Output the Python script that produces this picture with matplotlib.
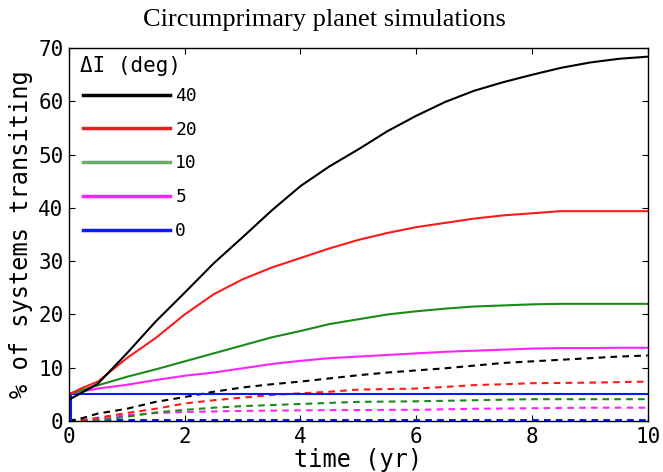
import matplotlib
matplotlib.use("Agg")
import matplotlib.pyplot as plt
from matplotlib.lines import Line2D


# =========================================================
# Data
# =========================================================
TIME = [0, 0.25, 0.5, 1, 1.5, 2, 2.5, 3, 3.5, 4, 4.5, 5,
        5.5, 6, 6.5, 7, 7.5, 8, 8.5, 9, 9.5, 10]

# ---- solid: one planet transiting ----
SOLID_40 = [4.0, 5.5, 7.0, 12.7, 18.7, 24.1, 29.6, 34.5, 39.5, 44.1, 47.8, 51.0,
            54.4, 57.3, 59.9, 62.0, 63.6, 65.0, 66.3, 67.3, 68.0, 68.4]
SOLID_20 = [5.0, 6.3, 7.4, 11.8, 15.6, 20.0, 23.8, 26.6, 28.8, 30.6, 32.4, 34.0,
            35.3, 36.4, 37.2, 38.0, 38.6, 39.0, 39.4, 39.4, 39.4, 39.4]
SOLID_10 = [5.0, 5.9, 6.7, 8.3, 9.7, 11.2, 12.7, 14.2, 15.7, 16.9, 18.2, 19.1,
            20.0, 20.6, 21.1, 21.5, 21.7, 21.9, 22.0, 22.0, 22.0, 22.0]
SOLID_5 = [5.2, 5.6, 6.1, 6.8, 7.7, 8.5, 9.1, 9.9, 10.7, 11.3, 11.8, 12.1,
           12.4, 12.7, 13.0, 13.2, 13.4, 13.6, 13.7, 13.7, 13.75, 13.75]
TIME_0 = [0, 0.03, 0.03, 10]
SOLID_0 = [0, 0, 5.0, 5.0]

# ---- dashed ----
DASH_40 = [0, 0.6, 1.4, 2.3, 3.6, 4.5, 5.5, 6.3, 6.9, 7.4, 8.0, 8.6,
           9.1, 9.5, 9.9, 10.4, 10.9, 11.2, 11.5, 11.8, 12.1, 12.3]
DASH_20 = [0, 0.2, 0.6, 1.5, 2.3, 3.3, 3.9, 4.4, 4.9, 5.2, 5.5, 5.9,
           6.0, 6.1, 6.4, 6.75, 6.9, 7.1, 7.15, 7.2, 7.3, 7.4]
DASH_10 = [0, 0, 0.1, 0.8, 1.6, 2.1, 2.5, 2.8, 3.0, 3.2, 3.4, 3.6,
           3.65, 3.7, 3.8, 3.9, 4.0, 4.1, 4.1, 4.1, 4.1, 4.1]
DASH_5 = [0, 0.2, 0.4, 1.1, 1.5, 1.7, 1.8, 1.9, 1.95, 2.0, 2.05, 2.05,
          2.1, 2.1, 2.2, 2.3, 2.35, 2.4, 2.45, 2.5, 2.5, 2.5]
DASH_0 = [0.1] * len(TIME)

LEGEND_TITLE = "ΔI (deg)"
LEGEND_LABELS = ["40", "20", "10", "5", "0"]
XTICKS = [0, 2, 4, 6, 8, 10]
YTICKS = [0, 10, 20, 30, 40, 50, 60, 70]


# =========================================================
# Style
# =========================================================
FIG_SIZE = (6.63, 4.72)
MONO = "DejaVu Sans Mono"
LW = 1.5
DASHES = (3.2, 2.5)

C_40 = "black"
C_20 = "#ff1a1a"
C_10 = "#1a8a1a"
C_5 = "#ff22ff"
C_0 = "#0a1aff"
LEG_COLORS = ["black", "#dd2222", "#6aaa6a", "#ff22ff", "#0a1aff"]


fig = plt.figure(figsize=FIG_SIZE, dpi=100)
ax = fig.add_axes([0.104, 0.108, 0.873, 0.790])

# -----------------------------------------------------
# Curves
# -----------------------------------------------------
for vals, col in [(DASH_0, C_0), (DASH_5, C_5), (DASH_10, C_10),
                  (DASH_20, C_20), (DASH_40, C_40)]:
    ax.plot(TIME, vals, color=col, lw=LW, dashes=DASHES)

ax.plot(TIME_0, SOLID_0, color=C_0, lw=LW)
for vals, col in [(SOLID_5, C_5), (SOLID_10, C_10),
                  (SOLID_20, C_20), (SOLID_40, C_40)]:
    ax.plot(TIME, vals, color=col, lw=LW)

# -----------------------------------------------------
# Axes
# -----------------------------------------------------
ax.set_xlim(0, 10)
ax.set_ylim(0, 70)
ax.set_xticks(XTICKS)
ax.set_yticks(YTICKS)
ax.tick_params(direction="in", top=True, right=True, length=4,
               width=0.8, labelsize=15, pad=4)
for lab in ax.get_xticklabels() + ax.get_yticklabels():
    lab.set_family(MONO)
for sp in ax.spines.values():
    sp.set_linewidth(1.0)

ax.set_xlabel("time (yr)", fontsize=17, family=MONO, labelpad=1)
ax.set_ylabel("% of systems transiting", fontsize=17, family=MONO, labelpad=4)

# -----------------------------------------------------
# Legend (title drawn as separate text)
# -----------------------------------------------------
ax.text(0.019, 0.952, LEGEND_TITLE, transform=ax.transAxes, ha="left",
        va="center", family=MONO, fontsize=15)
handles = [Line2D([], [], color=c, lw=2.5) for c in LEG_COLORS]
leg = ax.legend(handles, LEGEND_LABELS, loc="upper left",
                bbox_to_anchor=(0.012, 0.915), borderaxespad=0, frameon=False,
                prop={"family": MONO, "size": 13},
                handlelength=4.8, handletextpad=0.3, labelspacing=0.87)

fig.text(0.49, 0.957, "Circumprimary planet simulations", ha="center",
         va="center", fontsize=19, family="Liberation Serif")

plt.savefig("out.png", dpi=100)
plt.close()
